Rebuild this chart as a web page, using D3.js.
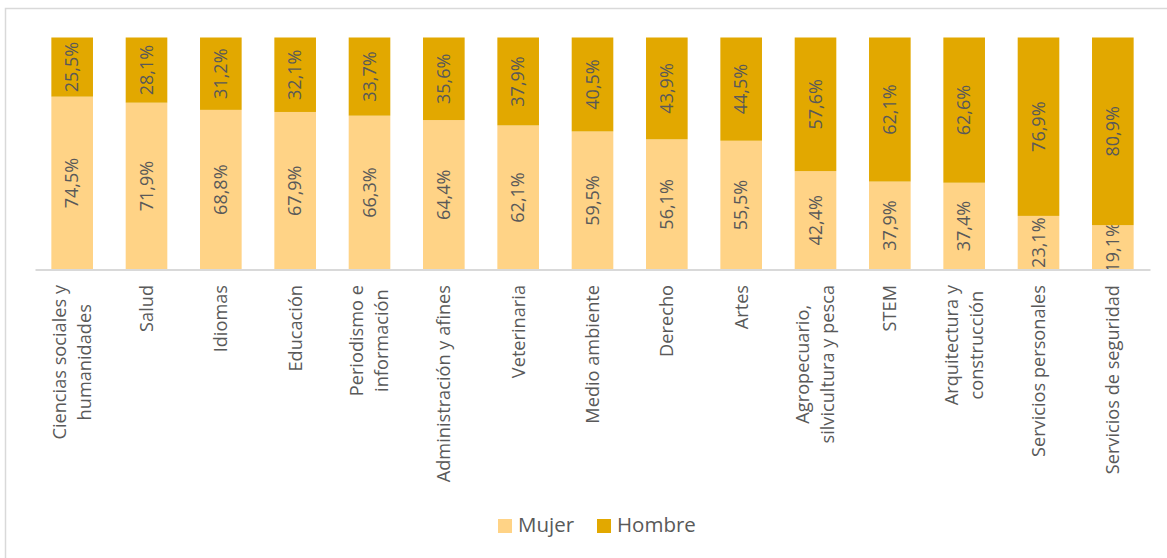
<!DOCTYPE html>
<html><head><meta charset="utf-8">
<script src="https://cdn.jsdelivr.net/npm/d3@7"></script>
<style>body{margin:0;background:#fff}svg{display:block}text{font-family:"Open Sans",sans-serif;fill:#595959}</style>
</head><body>
<svg id="c" width="1167" height="558"></svg>
<script>
const categories = [
  ["Ciencias sociales y","humanidades"],["Salud"],["Idiomas"],["Educación"],["Periodismo e","información"],
  ["Administración y afines"],["Veterinaria"],["Medio ambiente"],["Derecho"],["Artes"],
  ["Agropecuario,","silvicultura y pesca"],["STEM"],["Arquitectura y","construcción"],["Servicios personales"],["Servicios de seguridad"]
];
const mujer  = [74.5,71.9,68.8,67.9,66.3,64.4,62.1,59.5,56.1,55.5,42.4,37.9,37.4,23.1,19.1];
const hombre = [25.5,28.1,31.2,32.1,33.7,35.6,37.9,40.5,43.9,44.5,57.6,62.1,62.6,76.9,80.9];
const seriesNames = ["Mujer","Hombre"];
const colors = ["#FFD386","#E2A800"];

const svg = d3.select("#c");
svg.append("rect").attr("x",5.5).attr("y",8.5).attr("width",1300).attr("height",700)
  .attr("fill","none").attr("stroke","#d9d9d9").attr("stroke-width",1.5);

const keys = categories.map((c,i)=>"k"+i);
const x = d3.scaleBand().domain(keys).range([35,1150]).paddingInner(0.44).paddingOuter(0.22);
const y = d3.scaleLinear().domain([0,100]).range([269.5,37.5]);

const rows = keys.map((k,i)=>({key:k, Mujer:mujer[i], Hombre:hombre[i]}));
const stack = d3.stack().keys(seriesNames)(rows);

const g = svg.append("g");
stack.forEach((s,si)=>{
  g.selectAll(null).data(s).join("rect")
    .attr("x",d=>x(d.data.key)).attr("width",x.bandwidth())
    .attr("y",d=>y(d[1])).attr("height",d=>y(d[0])-y(d[1]))
    .attr("fill",colors[si]);
  g.selectAll(null).data(s).join("text")
    .attr("transform",d=>`translate(${x(d.data.key)+x.bandwidth()/2},${(y(d[0])+y(d[1]))/2}) rotate(-90)`)
    .attr("text-anchor","middle").attr("dy","0.35em").style("font-size","18px")
    .text(d=>d3.format(".1f")(d[1]-d[0]).replace(".",",")+"%");
});

// axis
const ax = svg.append("g").attr("transform","translate(0,269.5)").call(d3.axisBottom(x).tickSize(0).tickFormat(""));
ax.select(".domain").attr("stroke","#d9d9d9").attr("stroke-width",2);

// category labels
const lab = svg.append("g");
categories.forEach((lines,i)=>{
  const cx = x(keys[i])+x.bandwidth()/2;
  const grp = lab.append("g");
  const n = lines.length, lh = 25;
  const ts = lines.map((t,j)=>grp.append("text").style("font-size","18.2px")
     .attr("text-anchor","middle").text(t));
  const maxW = d3.max(ts, t=>t.node().getComputedTextLength());
  const cy = 285 + maxW/2;
  ts.forEach((t,j)=>{
    const off = (j-(n-1)/2)*lh;
    t.attr("transform",`translate(${cx+off},${cy}) rotate(-90)`).attr("dy","0.35em");
  });
});

// legend
const leg = svg.append("g");
const items = [{n:"Mujer",c:colors[0],x:498},{n:"Hombre",c:colors[1],x:597}];
items.forEach(it=>{
  leg.append("rect").attr("x",it.x).attr("y",519).attr("width",14).attr("height",14).attr("fill",it.c);
  leg.append("text").attr("x",it.x+20).attr("y",531.7).style("font-size","20.5px").text(it.n);
});
</script>
</body></html>
